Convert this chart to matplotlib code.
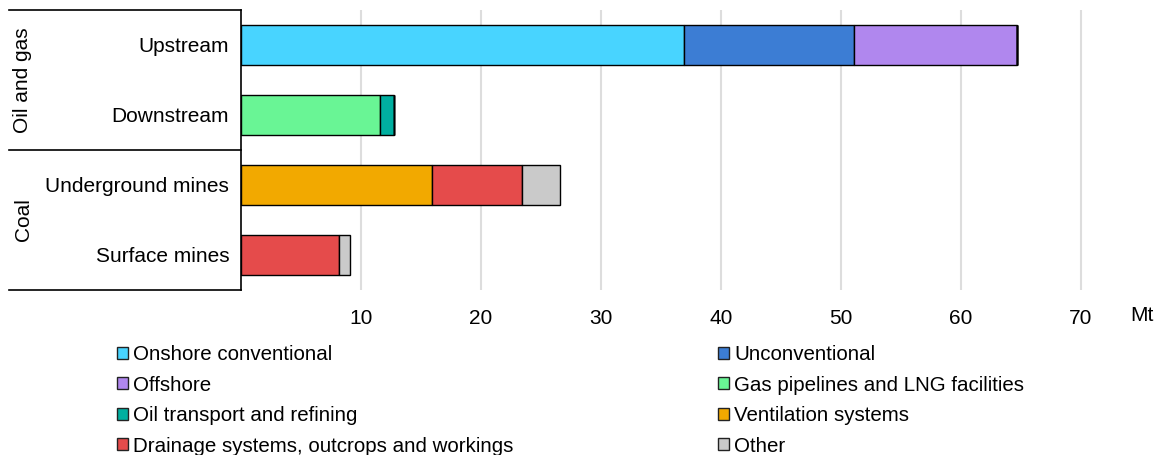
import matplotlib
matplotlib.use("Agg")
import matplotlib.pyplot as plt
from matplotlib.patches import Patch
from matplotlib.lines import Line2D

plt.rcParams['font.family'] = ['Liberation Sans', 'DejaVu Sans']

# ============= DATA =============
categories = ["Upstream", "Downstream", "Underground mines", "Surface mines"]
groups = ["Oil and gas", "Coal"]

series_names = ["Onshore conventional", "Unconventional", "Offshore",
                "Gas pipelines and LNG facilities", "Oil transport and refining",
                "Ventilation systems", "Drainage systems, outcrops and workings", "Other"]
onshore = [36.9, 0, 0, 0]
unconventional = [14.15, 0, 0, 0]
offshore = [13.65, 0, 0, 0]
gas_pipelines = [0, 11.55, 0, 0]
oil_transport = [0, 1.2, 0, 0]
ventilation = [0, 0, 15.95, 0]
drainage = [0, 0, 7.45, 8.2]
other = [0, 0, 3.2, 0.9]

colors = ["#48D4FF", "#3C7DD4", "#B087EE", "#69F595",
          "#00AFA0", "#F2A900", "#E54B4B", "#CACACA"]

xticks = [10, 20, 30, 40, 50, 60, 70]

# ============= PLOT =============
W, H = 1158, 455
fig = plt.figure(figsize=(W / 100, H / 100), dpi=100)
ax = fig.add_axes([241 / W, 1 - 290 / H, 888 / W, 280 / H])

all_series = [onshore, unconventional, offshore, gas_pipelines,
              oil_transport, ventilation, drainage, other]
ypos = list(range(len(categories)))
left = [0.0] * len(categories)
for name, vals, col in zip(series_names, all_series, colors):
    ax.barh(ypos, vals, left=left, height=0.56, color=col,
            edgecolor='black', linewidth=1, zorder=3)
    left = [l + v for l, v in zip(left, vals)]

ax.set_xlim(0, 74)
ax.set_ylim(3.5, -0.5)
ax.set_xticks(xticks)
ax.set_xticklabels([str(t) for t in xticks], fontsize=15)
ax.set_yticks(ypos)
ax.set_yticklabels(categories, fontsize=15)
ax.tick_params(axis='y', length=0, pad=8.5)
ax.tick_params(axis='x', length=0, pad=14)
ax.grid(axis='x', color='#DDDDDD', linewidth=1.5, zorder=0)
for s in ['top', 'right', 'bottom']:
    ax.spines[s].set_visible(False)
ax.spines['left'].set_color('black')
ax.spines['left'].set_linewidth(1.2)

# "Mt" unit label
ax.text(1.001, -0.09, "Mt", transform=ax.transAxes, fontsize=15,
        ha='left', va='center')

# left group table lines
x0 = -232 / 888
for yl in [-0.5, 1.5, 3.5]:
    ax.add_line(Line2D([x0, 0], [yl, yl], color='black', linewidth=1.2,
                       transform=ax.get_yaxis_transform(), clip_on=False))
ax.text(-218 / 888, 0.5, groups[0], rotation=90, fontsize=15,
        ha='center', va='center', transform=ax.get_yaxis_transform())
ax.text(-218 / 888, 2.5, groups[1], rotation=90, fontsize=15,
        ha='center', va='center', transform=ax.get_yaxis_transform())

# legend, two columns row-major
handles = [Patch(facecolor=c, edgecolor='#222222', linewidth=1) for c in colors]
left_idx = [0, 2, 4, 6]
right_idx = [1, 3, 5, 7]
leg_kw = dict(frameon=False, fontsize=14.8, handlelength=0.55, handleheight=0.55,
              handletextpad=0.25, labelspacing=0.56, borderpad=0, borderaxespad=0,
              loc='upper left')
leg1 = fig.legend([handles[i] for i in left_idx], [series_names[i] for i in left_idx],
                  bbox_to_anchor=(117 / W, 1 - 345 / H), **leg_kw)
leg2 = fig.legend([handles[i] for i in right_idx], [series_names[i] for i in right_idx],
                  bbox_to_anchor=(718 / W, 1 - 345 / H), **leg_kw)

fig.savefig("out.png", dpi=100)
